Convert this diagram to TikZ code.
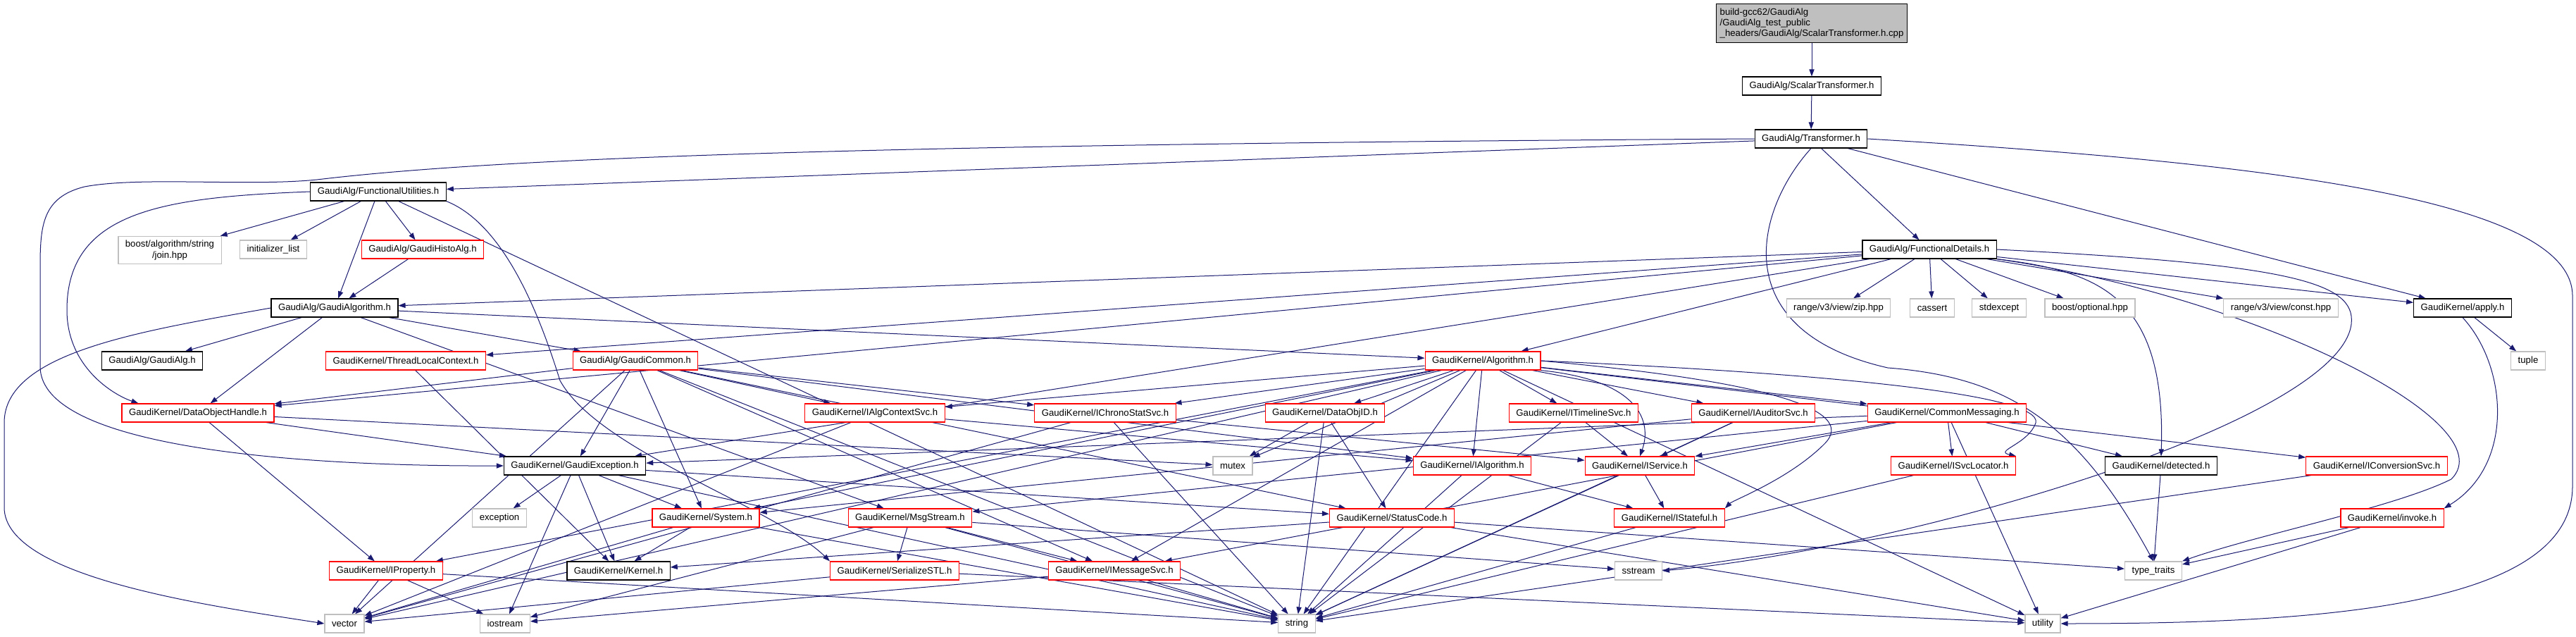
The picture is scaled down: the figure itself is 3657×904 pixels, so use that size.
\documentclass[tikz,border=0pt]{standalone}
\usepackage{fontspec}
\setsansfont{Liberation Sans}
\usepackage{tikz}
\usetikzlibrary{arrows.meta,backgrounds}
\definecolor{edgeblue}{RGB}{25,25,112}
\definecolor{sysgrey}{RGB}{191,191,191}
\definecolor{rootgrey}{RGB}{191,191,191}
\definecolor{truncred}{RGB}{255,0,0}
\tikzset{
  base/.style={font=\sffamily\fontsize{6.6}{7.6}\selectfont, align=center, inner ysep=0pt, inner xsep=5pt, minimum height=13pt, text=black},
  box/.style={base, rectangle, draw=black, fill=white, line width=0.6pt},
  trunc/.style={box, draw=truncred},
  ext/.style={box, draw=sysgrey},
  root/.style={box, fill=rootgrey, align=left, inner xsep=2.5pt, minimum height=27.5pt},
  arr/.style={-{Triangle[length=5pt,width=3.6pt]}, line width=0.5pt, draw=edgeblue},
}

\begin{document}
\begin{tikzpicture}[x=0.5pt,y=-0.5pt]
  \useasboundingbox (0,0) rectangle (3657,904);
  \node[root] (cpp) at (2572,33) {build-gcc62/GaudiAlg\\/GaudiAlg\_test\_public\\\_headers/GaudiAlg/ScalarTransformer.h.cpp};
  \node[box] (strans) at (2572,122) {GaudiAlg/ScalarTransformer.h};
  \node[box] (trans) at (2571,197) {GaudiAlg/Transformer.h};
  \node[box] (futil) at (537,272) {GaudiAlg/FunctionalUtilities.h};
  \node[ext,minimum height=19.5pt] (join) at (241,355) {boost/algorithm/string\\/join.hpp};
  \node[ext] (initlist) at (388,354) {initializer\_list};
  \node[trunc] (histo) at (600,354) {GaudiAlg/GaudiHistoAlg.h};
  \node[box] (fdet) at (2739,354) {GaudiAlg/FunctionalDetails.h};
  \node[box] (galgo) at (475,437) {GaudiAlg/GaudiAlgorithm.h};
  \node[ext] (zip) at (2610,437) {range/v3/view/zip.hpp};
  \node[ext] (cassert) at (2743,437) {cassert};
  \node[ext] (stdexcept) at (2838,437) {stdexcept};
  \node[ext] (optional) at (2967,437) {boost/optional.hpp};
  \node[ext] (constv) at (3238,437) {range/v3/view/const.hpp};
  \node[box] (apply) at (3496,437) {GaudiKernel/apply.h};
  \node[box] (galg) at (216,512) {GaudiAlg/GaudiAlg.h};
  \node[trunc] (tlc) at (576,512) {GaudiKernel/ThreadLocalContext.h};
  \node[trunc] (gcommon) at (902,512) {GaudiAlg/GaudiCommon.h};
  \node[trunc] (algo) at (2105,512) {GaudiKernel/Algorithm.h};
  \node[ext] (tuple) at (3589,512) {tuple};
  \node[trunc] (doh) at (281,586) {GaudiKernel/DataObjectHandle.h};
  \node[trunc] (actx) at (1242,586) {GaudiKernel/IAlgContextSvc.h};
  \node[trunc] (chrono) at (1569,586) {GaudiKernel/IChronoStatSvc.h};
  \node[trunc] (objid) at (1881,586) {GaudiKernel/DataObjID.h};
  \node[trunc] (timeline) at (2234,586) {GaudiKernel/ITimelineSvc.h};
  \node[trunc] (auditor) at (2489,586) {GaudiKernel/IAuditorSvc.h};
  \node[trunc] (cmsg) at (2764,586) {GaudiKernel/CommonMessaging.h};
  \node[box] (gexc) at (816,661) {GaudiKernel/GaudiException.h};
  \node[ext] (mutex) at (1750,661) {mutex};
  \node[trunc] (ialgo) at (2090,661) {GaudiKernel/IAlgorithm.h};
  \node[trunc] (iservice) at (2328,661) {GaudiKernel/IService.h};
  \node[trunc] (svcloc) at (2773,661) {GaudiKernel/ISvcLocator.h};
  \node[box] (detected) at (3068,661) {GaudiKernel/detected.h};
  \node[trunc] (iconv) at (3374,661) {GaudiKernel/IConversionSvc.h};
  \node[ext] (exception) at (709,735) {exception};
  \node[trunc] (system) at (1002,735) {GaudiKernel/System.h};
  \node[trunc] (msgstream) at (1292,735) {GaudiKernel/MsgStream.h};
  \node[trunc] (statuscode) at (1976,735) {GaudiKernel/StatusCode.h};
  \node[trunc] (istateful) at (2370,735) {GaudiKernel/IStateful.h};
  \node[trunc] (invoke) at (3396,735) {GaudiKernel/invoke.h};
  \node[trunc] (iprop) at (548,810) {GaudiKernel/IProperty.h};
  \node[box] (kernel) at (878,810) {GaudiKernel/Kernel.h};
  \node[trunc] (serial) at (1270,810) {GaudiKernel/SerializeSTL.h};
  \node[trunc] (imsg) at (1582,810) {GaudiKernel/IMessageSvc.h};
  \node[ext] (sstream) at (2326,810) {sstream};
  \node[ext] (ttraits) at (3057,810) {type\_traits};
  \node[ext] (vector) at (489,885) {vector};
  \node[ext] (iostream) at (717,885) {iostream};
  \node[ext] (string) at (1841,885) {string};
  \node[ext] (utility) at (2900,885) {utility};
  \begin{scope}[on background layer]
    \draw[arr] (cpp) -- (strans);
    \draw[arr] (strans) -- (trans);
    \foreach \t in {futil,fdet,apply}{\draw[arr] (trans) -- (\t);}
    \draw[arr] (trans.west) .. controls (1200,205) and (700,225) .. (450,255) .. controls (350,265) and (200,250) .. (120,265) .. controls (60,280) and (57,320) .. (57,380) -- (57,520) .. controls (57,640) and (450,662) .. (gexc.west);
    \draw[arr] (trans.east) .. controls (3200,230) and (3652,280) .. (3652,420) -- (3652,690) .. controls (3652,860) and (3300,885) .. (utility.east);
    \draw[arr] (trans.south) .. controls (2490,300) and (2450,470) .. (2680,522) .. controls (2850,535) and (2950,600) .. (ttraits.north);
    \foreach \t in {join,initlist,histo,galgo,string}{\draw[arr] (futil) -- (\t);}
    \draw[arr] (futil.south east) .. controls (720,320) and (770,460) .. (795,540) .. controls (850,640) and (1100,720) .. (serial.north west);
    \draw[arr] (futil.west) .. controls (230,280) and (95,300) .. (95,440) .. controls (95,520) and (160,560) .. ([xshift=12pt]doh.north west);
    \draw[arr] (histo) -- (galgo);
    \foreach \t in {galgo,algo,doh,gexc,tlc,apply,zip,cassert,stdexcept,optional,constv}{\draw[arr] (fdet) -- (\t);}
    \draw[arr] (fdet.south east) .. controls (2980,385) and (3075,420) .. (detected.north);
    \draw[arr] (fdet.east) .. controls (3250,375) and (3345,400) .. (3338,460) .. controls (3320,600) and (2700,780) .. (sstream.east);
    \draw[arr] (fdet.south east) .. controls (3200,420) and (3560,600) .. (3480,680) .. controls (3400,720) and (3200,760) .. (ttraits.north east);
    \draw[arr] (apply) -- (tuple);
    \draw[arr] (apply.south) .. controls (3560,520) and (3570,660) .. (invoke.north east);
    \foreach \t in {galg,doh,gcommon,algo,msgstream}{\draw[arr] (galgo) -- (\t);}
    \draw[arr] (galgo.west) .. controls (200,470) and (6,500) .. (6,600) -- (6,720) .. controls (6,820) and (300,860) .. (vector.west);
    \foreach \t in {doh,vector,gexc,system,actx,chrono,ialgo,statuscode,string,imsg}{\draw[arr] (gcommon) -- (\t);}
    \draw[arr] (tlc) -- (kernel);
    \foreach \t in {actx,chrono,objid,timeline,auditor,cmsg,ialgo,iconv,mutex,system,imsg,iprop,vector,string,utility}{\draw[arr] (algo) -- (\t);}
    \draw[arr] (algo.south east) .. controls (2330,540) and (2345,600) .. (iservice.north);
    \draw[arr] (algo.east) .. controls (2500,540) and (2640,580) .. (2590,630) .. controls (2540,680) and (2460,710) .. (istateful.north east);
    \draw[arr] (algo.east) .. controls (2600,530) and (2900,560) .. (2890,600) .. controls (2880,630) and (2830,640) .. (svcloc.north east);
    \foreach \t in {gexc,iprop,mutex}{\draw[arr] (doh) -- (\t);}
    \foreach \t in {ialgo,vector}{\draw[arr] (actx) -- (\t);}
    \foreach \t in {iservice,string,vector}{\draw[arr] (chrono) -- (\t);}
    \foreach \t in {mutex,string,statuscode}{\draw[arr] (objid) -- (\t);}
    \foreach \t in {iservice,string}{\draw[arr] (timeline) -- (\t);}
    \foreach \t in {iservice,string,system}{\draw[arr] (auditor) -- (\t);}
    \foreach \t in {svcloc,detected,utility,iservice,imsg,msgstream,gexc}{\draw[arr] (cmsg) -- (\t);}
    \foreach \t in {istateful,string}{\draw[arr] (ialgo) -- (\t);}
    \foreach \t in {istateful,string}{\draw[arr] (iservice) -- (\t);}
    \draw[arr] (svcloc) -- (string);
    \draw[arr] (detected) -- (ttraits);
    \draw[arr] (iconv) -- (string);
    \foreach \t in {exception,iostream,string,kernel,system,statuscode}{\draw[arr] (gexc) -- (\t);}
    \foreach \t in {kernel,vector,string}{\draw[arr] (system) -- (\t);}
    \foreach \t in {iostream,serial,string,imsg,sstream}{\draw[arr] (msgstream) -- (\t);}
    \foreach \t in {kernel,utility,ttraits}{\draw[arr] (statuscode) -- (\t);}
    \draw[arr] (istateful) -- (string);
    \foreach \t in {vector,iostream,string}{\draw[arr] (iprop) -- (\t);}
    \foreach \t in {vector,utility}{\draw[arr] (serial) -- (\t);}
    \foreach \t in {iostream,string}{\draw[arr] (imsg) -- (\t);}
    \foreach \t in {ttraits,utility}{\draw[arr] (invoke) -- (\t);}
  \end{scope}
\end{tikzpicture}
\end{document}
